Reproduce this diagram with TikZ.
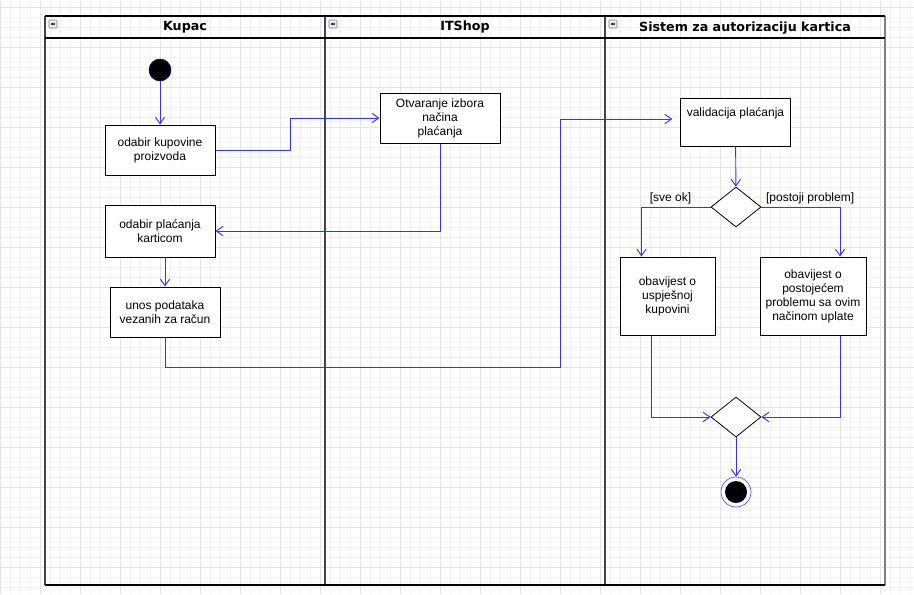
\documentclass[tikz,border=0pt]{standalone}
\usepackage{fontspec}
\setmainfont{Liberation Sans}
\newfontfamily\headfont{DejaVu Sans}
\usetikzlibrary{arrows.meta,shapes.geometric}
\definecolor{veza}{RGB}{51,51,255}
\definecolor{mrezica}{RGB}{243,243,243}
\definecolor{mreza}{RGB}{228,228,228}
\definecolor{staza}{RGB}{68,68,68}

\begin{document}
\begin{tikzpicture}[x=0.75pt,y=-0.75pt,
    aktivnost/.style={rectangle,draw,line width=0.75pt,fill=white,align=center,font=\fontsize{9}{10.5}\selectfont,inner sep=2pt},
    odluka/.style={diamond,draw,line width=0.6pt,fill=white,minimum width=37.5pt,minimum height=30pt,inner sep=0pt},
    tok/.style={draw=veza,line width=0.7pt,-{Straight Barb[length=5pt,width=7pt]}},
    uslov/.style={font=\fontsize{9}{10.5}\selectfont,inner sep=1pt},
    naslov/.style={font=\headfont\bfseries\fontsize{9.5}{11}\selectfont}]
    \useasboundingbox (0,0) rectangle (914,594);
    \fill[white] (0,0) rectangle (914,594);
    % mreza
    \foreach \x in {0,10,...,910} \draw[mrezica] (\x,0) -- (\x,594);
    \foreach \y in {7,17,...,593} \draw[mrezica] (0,\y) -- (914,\y);
    \foreach \x in {0,40,...,880} \draw[mreza] (\x,0) -- (\x,594);
    \foreach \y in {7,47,...,567} \draw[mreza] (0,\y) -- (914,\y);

    % bazen i staze
    \draw[staza,line width=1.5pt] (45,16) -- (45,585);
    \draw[staza,line width=1.5pt] (325,16) -- (325,585);
    \draw[staza,line width=1.5pt] (605,16) -- (605,585);
    \draw[gray,line width=1.2pt] (885,16) -- (885,585);
    \draw[line width=0.9pt] (45,16) -- (885,16);
    \draw[line width=0.9pt] (45,38) -- (885,38);
    \draw[line width=1.2pt] (45,585) -- (885,585);
    \foreach \x in {49,329,609}{
        \draw[gray,fill=blue!8,rounded corners=0.5pt] (\x,20) rectangle ++(8,8);
        \draw[staza,line width=0.8pt] (\x+2,24) -- ++(4,0);
    }
    \path
    (185,27) node[naslov](kupac) {Kupac}
    (465,27) node[naslov](itshop) {ITShop}
    (745,28) node[naslov](sistem) {Sistem za autorizaciju kartica};

    % cvorovi
    \path
    (160,70) node[circle,draw=blue!60!black,fill=black,minimum size=16.5pt,inner sep=0pt](pocetak) {}
    (160,150) node[aktivnost,minimum width=82.5pt,minimum height=37.5pt](kupovina) {odabir kupovine\\proizvoda}
    (440,118) node[aktivnost,minimum width=90pt,minimum height=37.5pt](otvaranje) {Otvaranje izbora\\načina\\plaćanja}
    (160,231) node[aktivnost,minimum width=82.5pt,minimum height=39pt](placanje) {odabir plaćanja\\karticom}
    (165,312) node[aktivnost,minimum width=82.5pt,minimum height=37.5pt](unos) {unos podataka\\vezanih za račun}
    (735.5,122) node[aktivnost,minimum width=82pt,text height=12pt,text depth=20pt](validacija) {validacija plaćanja}
    (736,207) node[odluka](provjera) {}
    (667.5,296) node[aktivnost,minimum width=71.25pt,minimum height=58.5pt](uspjeh) {obavijest o\\uspješnoj\\kupovini}
    (813,296) node[aktivnost,minimum width=79.5pt,minimum height=58.5pt](problem) {obavijest o\\postojećem\\problemu sa ovim\\načinom uplate}
    (736,417) node[odluka](spoj) {}
    (736,492) node[circle,draw=veza,minimum size=22.5pt,inner sep=0pt,
        path picture={\fill (path picture bounding box.center) circle (8.25pt);}](kraj) {};
    \coordinate (skretanje1) at (290,150);
    \coordinate (skretanje2) at (560,367);

    % tokovi
    \draw[tok] (pocetak) -- (kupovina);
    \draw[tok] (kupovina.east) -- (skretanje1) |- (otvaranje.west);
    \draw[tok] (otvaranje.south) |- (placanje.east);
    \draw[tok] (placanje.south -| unos.north) -- (unos.north);
    \draw[tok,shorten >=6pt] (unos.south) |- (skretanje2) |- ([yshift=2.25pt]validacija.west);
    \draw[tok] (validacija) -- (provjera);
    \draw[tok] (provjera.west) -| node[uslov,pos=0.29,above=1pt] {[sve ok]} ([xshift=-19.5pt]uspjeh.north);
    \draw[tok] (provjera.east) -| node[uslov,pos=0.31,above=1pt] {[postoji problem]} ([xshift=20.25pt]problem.north);
    \draw[tok] ([xshift=-12pt]uspjeh.south) |- (spoj.west);
    \draw[tok] ([xshift=20.25pt]problem.south) |- (spoj.east);
    \draw[tok] (spoj) -- (kraj);
\end{tikzpicture}
\end{document}
